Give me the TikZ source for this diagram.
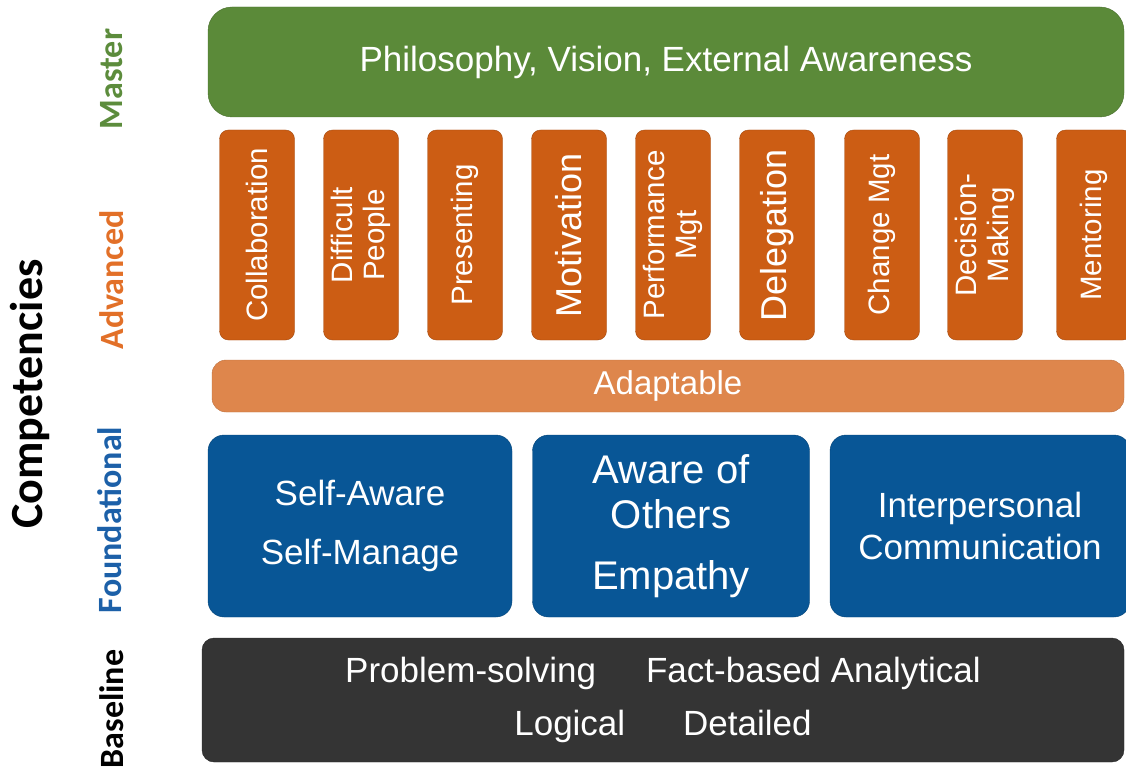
\documentclass[tikz,border=0pt]{standalone}
\usepackage{fontspec}
\setmainfont{Liberation Sans}
\newfontfamily\tierfont{Carlito}
\definecolor{masterfill}{RGB}{91,138,57}
\definecolor{advfill}{RGB}{204,93,20}
\definecolor{adaptfill}{RGB}{222,134,76}
\definecolor{foundfill}{RGB}{8,86,150}
\definecolor{basefill}{RGB}{52,52,52}
\definecolor{mastertxt}{RGB}{92,140,60}
\definecolor{advtxt}{RGB}{226,112,40}
\definecolor{foundtxt}{RGB}{28,96,168}

\begin{document}
\begin{tikzpicture}[x=1pt,y=-1pt,
    tier/.style={text=white,inner sep=0pt,align=center},
    masterbox/.style={tier,fill=masterfill,draw=masterfill!80!black,rounded corners=24pt,font=\fontsize{35}{40}\selectfont},
    colbox/.style={tier,fill=advfill,draw=advfill!80!black,rounded corners=9pt,rotate=90,minimum width=210pt,minimum height=75pt,font=\fontsize{29.5}{32}\selectfont},
    adaptbox/.style={tier,fill=adaptfill,draw=adaptfill!85!black,rounded corners=14pt,font=\fontsize{33}{38}\selectfont},
    foundbox/.style={tier,fill=foundfill,draw=foundfill!80!black,rounded corners=16pt,minimum height=182pt},
    basebox/.style={tier,fill=basefill,draw=black!85,rounded corners=12pt,font=\fontsize{35}{53}\selectfont},
    tierlabel/.style={rotate=90,font=\tierfont\bfseries\fontsize{34}{38}\selectfont}]
\useasboundingbox (0,0) rectangle (1126,770);
\clip (0,0) rectangle (1126,770);

% levels
\node[masterbox,minimum width=916pt,minimum height=110pt] (master) at (666, 62) {Philosophy, Vision, External Awareness};

\node[colbox] (collab)   at (257, 235) {Collaboration};
\node[colbox] (difficult) at (361, 235) {Difficult\\People};
\node[colbox] (present)  at (465, 235) {Presenting};
\node[colbox,font=\fontsize{36}{38}\selectfont] (motiv) at (569, 235) {Motivation};
\node[colbox] (perform)  at (673, 235) {Performance\\Mgt};
\node[colbox,font=\fontsize{36}{38}\selectfont] (deleg) at (777, 235) {Delegation};
\node[colbox] (change)   at (882, 235) {Change Mgt};
\node[colbox] (decision) at (985, 235) {Decision-\\Making};
\node[colbox] (mentor)   at (1094, 235) {Mentoring};

\node[adaptbox,minimum width=912pt,minimum height=52pt] (adapt) at (668, 386) {Adaptable};

\node[foundbox,minimum width=304pt,font=\fontsize{35}{59}\selectfont] (selfaware) at (360, 526) {Self-Aware\\Self-Manage};
\node[foundbox,minimum width=277pt,font=\fontsize{40}{45}\selectfont] (others) at (671, 526) {Aware of\\Others\\[16pt]Empathy};
\node[foundbox,minimum width=300pt,font=\fontsize{35}{42}\selectfont] (interp) at (980, 526) {Interpersonal\\Communication};

\node[basebox,minimum width=922pt,minimum height=124pt] (base) at (663, 700)
  {Problem-solving\hspace{50pt}Fact-based Analytical\\Logical\hspace{58pt}Detailed};

% tier names
\node[tierlabel,font=\tierfont\bfseries\fontsize{46}{50}\selectfont] (comp) at (30, 394) {Competencies};
\node[tierlabel,text=mastertxt] (lmaster) at (112, 79)  {Master};
\node[tierlabel,text=advtxt]    (ladv)    at (112, 280) {Advanced};
\node[tierlabel,text=foundtxt]  (lfound)  at (110, 520) {Foundational};
\node[tierlabel]                (lbase)   at (112, 709) {Baseline};
\end{tikzpicture}
\end{document}
